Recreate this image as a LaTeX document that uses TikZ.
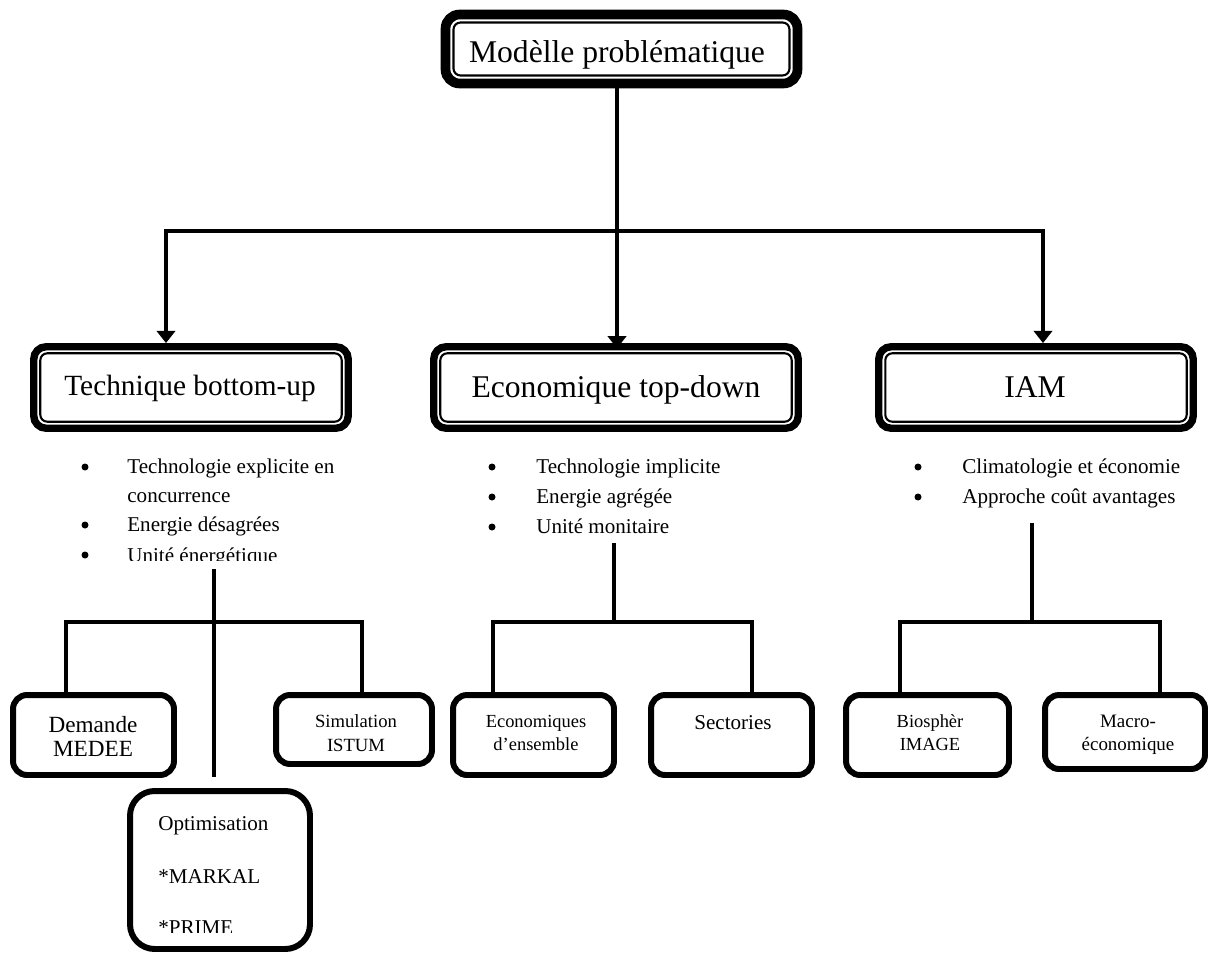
\documentclass[tikz,border=0pt]{standalone}
\usepackage{fontspec}
\setmainfont{Liberation Serif}
\usetikzlibrary{arrows.meta}
\begin{document}
\begin{tikzpicture}[x=0.02cm,y=-0.02cm,
  conn/.style={line width=2.3pt,line join=miter},
  arr/.style={conn,-{Triangle[length=7pt,width=10.5pt]}},
  dblarr/.style={conn,{Triangle[length=7pt,width=10.5pt]}-{Triangle[length=7pt,width=10.5pt]}},
  topbox/.style={draw,line width=5.5pt,rounded corners=8pt,fill=white,inner sep=0pt},
  catbox/.style={draw,line width=4.2pt,rounded corners=7pt,fill=white,inner sep=0pt},
  innerline/.style={line width=1.2pt,rounded corners=4pt},
  leaf/.style={draw,line width=3.4pt,rounded corners=8pt,fill=white,inner sep=0pt},
  bigtxt/.style={font=\fontsize{18}{20}\selectfont,anchor=base,inner sep=0pt},
  listtxt/.style={font=\fontsize{12}{14}\selectfont,anchor=base west,inner sep=0pt},
  dot/.style={circle,fill=black,inner sep=0pt,minimum size=0.14cm},
  smalltxt/.style={font=\fontsize{10.5}{12}\selectfont,anchor=base,inner sep=0pt}]
\useasboundingbox (0,0) rectangle (1216,953);

% ---------- boxes ----------
\node[topbox,minimum width=7.04cm,minimum height=1.38cm] (top) at (621.5,49) {};
\node[catbox,minimum width=6.29cm,minimum height=1.63cm] (tech) at (191,387.5) {};
\node[catbox,minimum width=7.29cm,minimum height=1.63cm] (econ) at (616,387.5) {};
\node[catbox,minimum width=6.29cm,minimum height=1.63cm] (iam) at (1036,387.5) {};

\node[leaf,minimum width=3.22cm,minimum height=1.6cm] (dem) at (93.5,735) {};
\node[leaf,minimum width=3.12cm,minimum height=1.38cm] (sim) at (354,729.5) {};
\node[leaf,minimum width=3.6cm,minimum height=3.16cm,rounded corners=14pt] (opt) at (220,870) {};
\node[leaf,minimum width=3.22cm,minimum height=1.6cm] (ens) at (533.5,735) {};
\node[leaf,minimum width=3.22cm,minimum height=1.6cm] (sec) at (731.5,735) {};
\node[leaf,minimum width=3.26cm,minimum height=1.6cm] (bio) at (927.5,735) {};
\node[leaf,minimum width=3.2cm,minimum height=1.48cm] (mac) at (1125,732) {};

% thin inner frame of the double-bordered boxes (anchors sit on the outer edge)
\draw[innerline] ([shift={(12.8,12.8)}]top.north west) rectangle ([shift={(-12.8,-12.8)}]top.south east);
\foreach \bx in {tech,econ,iam}
  \draw[innerline] ([shift={(10.2,10.2)}]\bx.north west) rectangle ([shift={(-10.2,-10.2)}]\bx.south east);

% ---------- connectors, first level ----------
\coordinate (jt) at (617,231);
\coordinate (bl) at (166,231);
\coordinate (br) at (1043,231);
\draw[arr] (jt |- top.south) -- ([yshift=-3pt]jt |- econ.north);
\draw[dblarr] (bl |- tech.north) -- (bl) -- (br) -- (br |- iam.north);

% ---------- connectors, second level ----------
\coordinate (t1) at (214,569);
\coordinate (t2) at (214,777);
\draw[conn] (t1) -- (t2);
\coordinate (b1l) at (66,622);
\coordinate (b1r) at (362,622);
\draw[conn] (b1l |- dem.north) -- (b1l) -- (b1r) -- (b1r |- sim.north);

\coordinate (e1) at (614,543);
\coordinate (e2) at (614,622);
\draw[conn] (e1) -- (e2);
\coordinate (b2l) at (493,622);
\coordinate (b2r) at (752,622);
\draw[conn] (b2l |- ens.north) -- (b2l) -- (b2r) -- (b2r |- sec.north);

\coordinate (i1) at (1032,523);
\coordinate (i2) at (1032,622);
\draw[conn] (i1) -- (i2);
\coordinate (b3l) at (900,622);
\coordinate (b3r) at (1160,622);
\draw[conn] (b3l |- bio.north) -- (b3l) -- (b3r) -- (b3r |- mac.north);

% ---------- box titles ----------
\node[bigtxt] (ltop) at (617,63) {Modèlle problématique};
\node[bigtxt,font=\fontsize{16.7}{19}\selectfont] (ltech) at (190,395) {Technique bottom-up};
\node[bigtxt] (lecon) at (616,397) {Economique top-down};
\node[bigtxt] (liam) at (1035,397) {IAM};

% ---------- bullet lists ----------
\node[dot] (tb1) at (85,467) {};
\node[listtxt] (tl1) at (127,473) {Technologie explicite en};
\node[listtxt] (tl2) at (127,502) {concurrence};
\node[dot] (tb3) at (85,525) {};
\node[listtxt] (tl3) at (127,531) {Energie désagrées};
\node[dot] (tb4) at (85,555) {};
\begin{scope}
  \clip (0,540) rectangle (420,560);
  \node[listtxt] (tl4) at (127,562) {Unité énergétique};
\end{scope}

\node[dot] (eb1) at (492,467) {};
\node[listtxt] (el1) at (536,473) {Technologie implicite};
\node[dot] (eb2) at (492,497) {};
\node[listtxt] (el2) at (536,503) {Energie agrégée};
\node[dot] (eb3) at (492,527) {};
\node[listtxt] (el3) at (536,533) {Unité monitaire};

\node[dot] (ib1) at (918,467) {};
\node[listtxt] (il1) at (962,473) {Climatologie et économie};
\node[dot] (ib2) at (918,497) {};
\node[listtxt] (il2) at (962,503) {Approche coût avantages};

% ---------- leaf labels ----------
\node[smalltxt,font=\fontsize{13.2}{15}\selectfont] (dem1) at (93,732) {Demande};
\node[smalltxt,font=\fontsize{13.2}{15}\selectfont] (dem2) at (93,756) {MEDEE};
\node[smalltxt,font=\fontsize{10.6}{12}\selectfont] (sim1) at (356,727) {Simulation};
\node[smalltxt,font=\fontsize{10.6}{12}\selectfont] (sim2) at (356,751) {ISTUM};
\node[smalltxt] (ens1) at (536,727) {Economiques};
\node[smalltxt] (ens2) at (536,750) {d’ensemble};
\node[smalltxt,font=\fontsize{12}{14}\selectfont] (sec1) at (733,729) {Sectories};
\node[smalltxt] (bio1) at (930,727) {Biosphèr};
\node[smalltxt] (bio2) at (930,750) {IMAGE};
\node[smalltxt,font=\fontsize{10.8}{12}\selectfont] (mac1) at (1128,727) {Macro-};
\node[smalltxt,font=\fontsize{10.8}{12}\selectfont] (mac2) at (1128,750) {économique};

\node[listtxt] (opt1) at (158,830) {Optimisation};
\node[listtxt] (opt2) at (158,883) {*MARKAL};
\begin{scope}
  \clip (140,900) rectangle (300,932.5);
  \node[listtxt] (opt3) at (158,934) {*PRIME};
\end{scope}
\end{tikzpicture}
\end{document}
